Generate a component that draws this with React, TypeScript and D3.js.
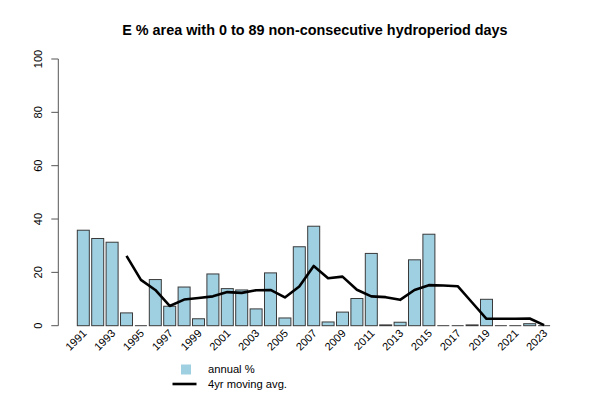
import React from "react";
import * as d3 from "d3";

const years = d3.range(1991, 2024);
const annualPct = [
  35.8, 32.7, 31.3, 4.8, 0, 17.3, 7.3, 14.5, 2.6, 19.4, 13.9, 13.4, 6.3,
  19.8, 2.9, 29.6, 37.3, 1.4, 5.1, 10.2, 27.1, 0.3, 1.3, 24.7, 34.3, 0, 0,
  0.3, 9.9, 0, 0, 0.75, 0,
];
const maYears = d3.range(1994, 2024);
const movingAvg = [
  26.2, 17.2, 13.4, 7.4, 9.8, 10.4, 11.0, 12.6, 12.3, 13.3, 13.4, 10.6,
  14.7, 22.4, 17.8, 18.4, 13.5, 11.0, 10.7, 9.7, 13.4, 15.2, 15.1, 14.8,
  8.7, 2.6, 2.6, 2.6, 2.7, 0.2,
];
const yTicks = [0, 20, 40, 60, 80, 100];
const labelYears = years.filter((y) => (y - 1991) % 2 === 0);
const title = "E % area with 0 to 89 non-consecutive hydroperiod days";

const W = 600;
const H = 400;
const plotLeft = 58.3;
const plotRight = 571.5;
const barFill = "#9fd0e2";
const barStroke = "#3a3a3a";
const font = "Liberation Sans, Arial, sans-serif";

export default function App() {
  // barplot units: width 1, space 0.2
  const n = years.length;
  const uMax = n * 1.2 + 0.2;
  const ext = (uMax - 0.2) * 0.04;
  const xu = d3.scaleLinear().domain([0.2 - ext, uMax + ext]).range([plotLeft, plotRight]);
  const y = d3.scaleLinear().domain([0, 100]).range([325.7, 59]);
  const left = (i: number) => xu(0.2 + i * 1.2);
  const center = (i: number) => xu(0.2 + i * 1.2 + 0.5);
  const bw = xu(1) - xu(0);

  const line = d3
    .line<number>()
    .x((_, i) => center(years.indexOf(maYears[i])))
    .y((d) => y(d));

  return (
    <svg width={W} height={H} style={{ position: "absolute", left: 0, top: 0 }}>
      <rect width={W} height={H} fill="#fff" />
      <text
        x={(plotLeft + plotRight) / 2}
        y={35}
        textAnchor="middle"
        fontFamily={font}
        fontWeight="bold"
        fontSize={14.4}
      >
        {title}
      </text>
      {annualPct.map((v, i) =>
        v === 0 ? (
          <line
            key={years[i]}
            x1={left(i)}
            x2={left(i) + bw}
            y1={y(0)}
            y2={y(0)}
            stroke={barStroke}
            strokeWidth={1}
          />
        ) : (
          <rect
            key={years[i]}
            x={left(i)}
            y={y(v)}
            width={bw}
            height={y(0) - y(v)}
            fill={barFill}
            stroke={barStroke}
            strokeWidth={1}
          />
        )
      )}
      <path d={line(movingAvg) || ""} fill="none" stroke="#000" strokeWidth={2.6} strokeLinejoin="round" />
      {/* y axis */}
      <line x1={plotLeft} x2={plotLeft} y1={y(0)} y2={y(100)} stroke="#555" strokeWidth={1} />
      {yTicks.map((t) => (
        <g key={t}>
          <line x1={plotLeft - 7} x2={plotLeft} y1={y(t)} y2={y(t)} stroke="#555" strokeWidth={1} />
          <text
            transform={`translate(${42},${y(t)}) rotate(-90)`}
            textAnchor="middle"
            fontFamily={font}
            fontSize={11}
          >
            {t}
          </text>
        </g>
      ))}
      {/* x labels */}
      {labelYears.map((yr) => {
        const i = years.indexOf(yr);
        return (
          <text
            key={yr}
            transform={`translate(${center(i) + 4},${334}) rotate(-45)`}
            textAnchor="end"
            fontFamily={font}
            fontSize={11}
          >
            {yr}
          </text>
        );
      })}
      {/* legend */}
      <rect x={181} y={364.5} width={10} height={10} fill={barFill} />
      <text x={208} y={373} fontFamily={font} fontSize={11.2}>
        annual %
      </text>
      <line x1={172.5} x2={196.5} y1={384} y2={384} stroke="#000" strokeWidth={2.6} />
      <text x={208} y={388} fontFamily={font} fontSize={11.2}>
        4yr moving avg.
      </text>
    </svg>
  );
}
